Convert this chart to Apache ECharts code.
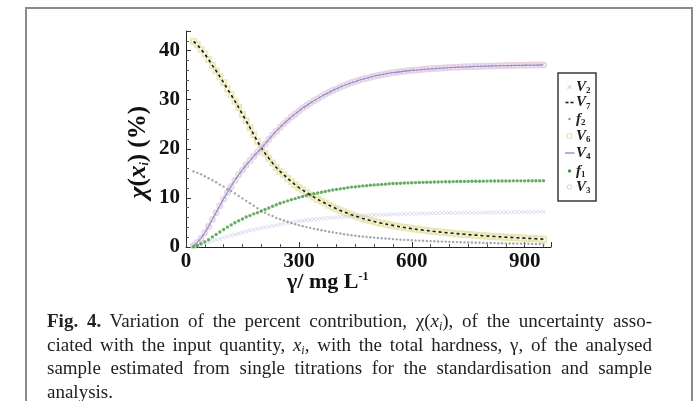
<!DOCTYPE html>
<html>
<head>
<meta charset="utf-8">
<script src="https://cdn.jsdelivr.net/npm/echarts@6/dist/echarts.min.js"></script>
<style>
html,body{margin:0;padding:0;background:#fff;}
#wrap{position:relative;width:700px;height:401px;overflow:hidden;}
#chart{position:absolute;left:0;top:0;width:700px;height:401px;}
#frame{position:absolute;left:25px;top:7px;width:668px;height:440px;box-sizing:border-box;border:2.5px solid #8a8a8a;border-bottom:none;}
#cap{position:absolute;left:47px;top:309px;width:605px;font-family:"Liberation Serif",serif;font-size:19px;line-height:23.5px;color:#222;}
#cap div{height:23.5px;text-align:justify;text-align-last:justify;white-space:nowrap;}
#cap div.last{text-align-last:left;}
#cap sub{font-size:12px;line-height:0;vertical-align:-3px;}
</style>
</head>
<body>
<div id="wrap">
<div id="frame"></div>
<div id="chart"></div>
<div id="cap">
<div><b>Fig. 4.</b> Variation of the percent contribution, χ(<i>x</i><sub><i>i</i></sub>), of the uncertainty asso-</div>
<div>ciated with the input quantity, <i>x<sub>i</sub></i>, with the total hardness, γ, of the analysed</div>
<div>sample estimated from single titrations for the standardisation and sample</div>
<div class="last">analysis.</div>
</div>
</div>
<script>
// gamma values (mg L-1)
const gammaVals = [20,30,40,50,60,70,80,90,100,110,120,130,140,150,160,170,180,190,200,210,220,230,240,250,260,270,280,290,300,310,320,330,340,350,360,370,380,390,400,410,420,430,440,450,460,470,480,490,500,510,520,530,540,550,560,570,580,590,600,610,620,630,640,650,660,670,680,690,700,710,720,730,740,750,760,770,780,790,800,810,820,830,840,850,860,870,880,890,900,910,920,930,940,950];

const V7 = [41.9,41.2,40.3,39.3,38.2,37.0,35.9,34.7,33.5,32.2,31.0,29.7,28.4,27.0,25.7,24.3,22.9,21.5,20.2,19.1,18.1,17.1,16.2,15.4,14.7,14.0,13.3,12.7,12.1,11.6,11.1,10.6,10.15,9.7,9.3,8.9,8.5,8.15,7.8,7.45,7.15,6.85,6.55,6.3,6.05,5.8,5.6,5.4,5.2,5.0,4.85,4.7,4.55,4.4,4.25,4.1,3.98,3.86,3.75,3.64,3.54,3.44,3.35,3.26,3.17,3.09,3.01,2.93,2.86,2.79,2.72,2.65,2.59,2.53,2.47,2.41,2.35,2.3,2.25,2.2,2.15,2.1,2.05,2.0,1.96,1.92,1.88,1.84,1.8,1.76,1.72,1.68,1.64,1.6];
const V6 = [41.9,41.2,40.3,39.3,38.2,37.0,35.9,34.7,33.5,32.2,31.0,29.7,28.4,27.0,25.7,24.3,22.9,21.5,20.2,19.1,18.1,17.1,16.2,15.4,14.7,14.0,13.3,12.7,12.1,11.6,11.1,10.6,10.15,9.7,9.3,8.9,8.5,8.15,7.8,7.45,7.15,6.85,6.55,6.3,6.05,5.8,5.6,5.4,5.2,5.0,4.85,4.7,4.55,4.4,4.25,4.1,3.98,3.86,3.75,3.64,3.54,3.44,3.35,3.26,3.17,3.09,3.01,2.93,2.86,2.79,2.72,2.65,2.59,2.53,2.47,2.41,2.35,2.3,2.25,2.2,2.15,2.1,2.05,2.0,1.96,1.92,1.88,1.84,1.8,1.76,1.72,1.68,1.64,1.6];
const V4 = [0.3,0.9,1.8,2.9,4.2,5.6,7.0,8.4,9.8,11.1,12.4,13.6,14.7,15.7,16.7,17.6,18.5,19.3,20.1,21.0,21.9,22.8,23.6,24.4,25.1,25.8,26.5,27.1,27.7,28.3,28.8,29.3,29.8,30.2,30.7,31.1,31.5,31.9,32.2,32.6,32.9,33.2,33.5,33.7,34.0,34.2,34.4,34.6,34.8,34.95,35.1,35.25,35.4,35.5,35.6,35.7,35.8,35.9,36.0,36.05,36.1,36.2,36.25,36.3,36.35,36.4,36.45,36.5,36.55,36.6,36.62,36.65,36.7,36.72,36.75,36.78,36.8,36.82,36.85,36.87,36.89,36.91,36.93,36.95,36.96,36.98,37.0,37.01,37.02,37.03,37.05,37.06,37.07,37.08];
const V3 = [0.3,0.9,1.8,2.9,4.2,5.6,7.0,8.4,9.8,11.1,12.4,13.6,14.7,15.7,16.7,17.6,18.5,19.3,20.1,21.0,21.9,22.8,23.6,24.4,25.1,25.8,26.5,27.1,27.7,28.3,28.8,29.3,29.8,30.2,30.7,31.1,31.5,31.9,32.2,32.6,32.9,33.2,33.5,33.7,34.0,34.2,34.4,34.6,34.8,34.95,35.1,35.25,35.4,35.5,35.6,35.7,35.8,35.9,36.0,36.05,36.1,36.2,36.25,36.3,36.35,36.4,36.45,36.5,36.55,36.6,36.62,36.65,36.7,36.72,36.75,36.78,36.8,36.82,36.85,36.87,36.89,36.91,36.93,36.95,36.96,36.98,37.0,37.01,37.02,37.03,37.05,37.06,37.07,37.08];
const f1 = [0.1,0.3,0.65,1.05,1.5,2.05,2.55,3.05,3.55,4.05,4.5,4.95,5.35,5.7,6.1,6.4,6.75,7.0,7.3,7.65,7.95,8.3,8.6,8.9,9.15,9.4,9.65,9.85,10.1,10.3,10.5,10.65,10.85,11.0,11.15,11.3,11.45,11.6,11.7,11.85,11.95,12.1,12.2,12.25,12.35,12.45,12.5,12.6,12.65,12.7,12.75,12.8,12.9,12.92,12.95,13.0,13.03,13.06,13.1,13.12,13.14,13.17,13.19,13.21,13.23,13.25,13.27,13.29,13.3,13.32,13.33,13.34,13.36,13.37,13.38,13.39,13.4,13.41,13.42,13.43,13.43,13.44,13.45,13.45,13.46,13.47,13.47,13.48,13.48,13.49,13.49,13.5,13.5,13.5];
const V2 = [0.05,0.2,0.4,0.7,0.95,1.2,1.5,1.7,1.95,2.15,2.35,2.55,2.75,2.95,3.15,3.35,3.5,3.7,3.85,4.0,4.15,4.3,4.5,4.65,4.75,4.9,5.0,5.15,5.25,5.35,5.45,5.55,5.65,5.7,5.8,5.85,5.95,6.0,6.05,6.1,6.15,6.2,6.25,6.3,6.35,6.4,6.45,6.5,6.52,6.55,6.58,6.6,6.62,6.65,6.68,6.7,6.72,6.74,6.76,6.78,6.8,6.82,6.84,6.86,6.88,6.9,6.91,6.92,6.93,6.94,6.95,6.96,6.97,6.98,6.99,7.0,7.01,7.02,7.03,7.04,7.05,7.06,7.07,7.08,7.09,7.1,7.11,7.12,7.13,7.14,7.15,7.16,7.17,7.18];
const f2 = [15.4,15.1,14.8,14.4,14.0,13.6,13.2,12.7,12.3,11.8,11.4,10.9,10.4,9.9,9.4,8.9,8.4,7.9,7.4,7.0,6.6,6.3,5.9,5.65,5.4,5.15,4.9,4.65,4.45,4.25,4.05,3.9,3.7,3.55,3.4,3.25,3.1,3.0,2.85,2.75,2.6,2.5,2.4,2.3,2.2,2.15,2.05,1.98,1.9,1.84,1.78,1.72,1.67,1.61,1.56,1.5,1.46,1.42,1.38,1.34,1.3,1.26,1.23,1.2,1.16,1.13,1.1,1.08,1.05,1.02,1.0,0.97,0.95,0.93,0.91,0.88,0.86,0.84,0.83,0.81,0.79,0.77,0.75,0.73,0.72,0.7,0.69,0.68,0.66,0.65,0.63,0.62,0.6,0.59];

const xTicks = [0,300,600,900];
const yTicks = [0,10,20,30,40];
const legendNames = ['V2','V7','f2','V6','V4','f1','V3'];

const pair = arr => gammaVals.map((g,i)=>[g,arr[i]]);
const xMark = 'path://M0,1L1,0L5,4L9,0L10,1L6,5L10,9L9,10L5,6L1,10L0,9L4,5Z';
const serif = '"Liberation Serif","Times New Roman",serif';
const col = {V2:'#bcc3e2',V7:'#1a1a1a',f2:'#8d8c9c',V6:'#e6e3a8',V4:'#8c93c9',f1:'#3e9a3e',V3:'#e6c9df'};

const chart = echarts.init(document.getElementById('chart'), null, {renderer:'canvas'});
const axisLab = {fontFamily:serif,fontWeight:'bold',fontSize:21,color:'#111'};

// legend drawn as graphic box
const legX = 558, legY = 73, legW = 38, legH = 128;
const rowY = [87, 102.5, 119, 136, 153, 171, 187];
const symX = 569.5;
const legendRich = {
  v:{fontFamily:serif,fontStyle:'italic',fontWeight:'bold',fontSize:15,fill:'#222'},
  s:{fontFamily:serif,fontWeight:'bold',fontSize:9,fill:'#222',padding:[8,0,0,0]}
};
const Z = 30;
const legendSymbols = {
  V2: y=>[{type:'line',z:Z,shape:{x1:symX-2,y1:y-2,x2:symX+2,y2:y+2},style:{stroke:col.V2,lineWidth:1}},
          {type:'line',z:Z,shape:{x1:symX-2,y1:y+2,x2:symX+2,y2:y-2},style:{stroke:col.V2,lineWidth:1}}],
  V7: y=>[{type:'rect',z:Z,shape:{x:565.5,y:y-0.8,width:3,height:1.6},style:{fill:col.V7}},
          {type:'rect',z:Z,shape:{x:570.5,y:y-0.8,width:3,height:1.6},style:{fill:col.V7}}],
  f2: y=>[{type:'circle',z:Z,shape:{cx:symX,cy:y,r:1.2},style:{fill:col.f2}}],
  V6: y=>[{type:'rect',z:Z,shape:{x:symX-2.2,y:y-2.2,width:4.4,height:4.4},style:{fill:'none',stroke:col.V6,lineWidth:1.1}}],
  V4: y=>[{type:'line',z:Z,shape:{x1:565,y1:y,x2:574.5,y2:y},style:{stroke:col.V4,lineWidth:1.4}}],
  f1: y=>[{type:'circle',z:Z,shape:{cx:symX,cy:y,r:1.7},style:{fill:col.f1}}],
  V3: y=>[{type:'circle',z:Z,shape:{cx:symX,cy:y,r:2.3},style:{fill:'none',stroke:col.V3,lineWidth:1}}]
};
const legendGraphic = [{type:'rect',id:'legbox',z:25,shape:{x:legX,y:legY,width:legW,height:legH},style:{fill:'#ffffff',stroke:'#3a3a3a',lineWidth:1.5}}];
legendNames.forEach((n,i)=>{
  legendSymbols[n](rowY[i]).forEach(s=>legendGraphic.push(s));
  legendGraphic.push({type:'text',z:Z,x:576,y:rowY[i],style:{rich:legendRich,text:`{v|${n[0]}}{s|${n.slice(1)}}`,verticalAlign:'middle'}});
});

chart.setOption({
  animation:false,
  grid:{left:186,top:31,right:149,bottom:154,containLabel:false},
  xAxis:{type:'value',min:0,max:970,interval:300,
    axisLine:{lineStyle:{color:'#222',width:1}},
    axisTick:{inside:true,length:5,lineStyle:{color:'#333'}},
    minorTick:{show:true,splitNumber:6,length:3,lineStyle:{color:'#555'}},
    splitLine:{show:false},
    axisLabel:Object.assign({margin:4,showMaxLabel:false,formatter:v=>xTicks.includes(v)?String(v):''},axisLab)},
  yAxis:{type:'value',min:0,max:44,interval:10,
    axisLine:{show:true,lineStyle:{color:'#222',width:1}},
    axisTick:{show:true,inside:true,length:5,lineStyle:{color:'#333'}},
    minorTick:{show:true,splitNumber:5,length:3,lineStyle:{color:'#555'}},
    splitLine:{show:false},
    axisLabel:Object.assign({margin:6,showMaxLabel:false,formatter:v=>yTicks.includes(v)?String(v):''},axisLab)},
  graphic:{elements:legendGraphic.concat([
    {type:'text',left:126,top:106,rotation:Math.PI/2,z:10,
      style:{rich:{
        c:{fontFamily:serif,fontStyle:'italic',fontWeight:'bold',fontSize:26,fill:'#111'},
        n:{fontFamily:serif,fontWeight:'bold',fontSize:25,fill:'#111'},
        x:{fontFamily:serif,fontStyle:'italic',fontWeight:'bold',fontSize:25,fill:'#111'},
        s:{fontFamily:serif,fontStyle:'italic',fontWeight:'bold',fontSize:12,fill:'#111',padding:[12,0,0,0]}
      },text:'{c|χ}{n|(}{x|x}{s|i}{n|) (%)}'}},
    {type:'text',left:287,top:271,z:10,
      style:{rich:{
        n:{fontFamily:serif,fontWeight:'bold',fontSize:22,fill:'#111'},
        u:{fontFamily:serif,fontWeight:'bold',fontSize:12,fill:'#111',padding:[0,0,11,0]}
      },text:'{n|γ/ mg L}{u|-1}'}}
  ])},
  series:[
    {name:'V2',type:'scatter',data:pair(V2),symbol:xMark,symbolSize:4,itemStyle:{color:col.V2},z:2},
    {name:'V7',type:'line',data:pair(V7),showSymbol:false,symbol:'none',lineStyle:{color:col.V7,width:1.6,type:[3,3]},z:4},
    {name:'f2',type:'scatter',data:pair(f2),symbol:'circle',symbolSize:2.4,itemStyle:{color:col.f2},z:3},
    {name:'V6',type:'scatter',data:pair(V6),symbol:'emptyRect',symbolSize:5,itemStyle:{color:col.V6,borderWidth:1.2},z:1},
    {name:'V4',type:'line',data:pair(V4),showSymbol:false,symbol:'none',lineStyle:{color:col.V4,width:1.3},z:4},
    {name:'f1',type:'scatter',data:pair(f1),symbol:'circle',symbolSize:3.4,itemStyle:{color:col.f1},z:3},
    {name:'V3',type:'scatter',data:pair(V3),symbol:'emptyCircle',symbolSize:5,itemStyle:{color:col.V3,borderWidth:1},z:1}
  ]
});
</script>
</body>
</html>
